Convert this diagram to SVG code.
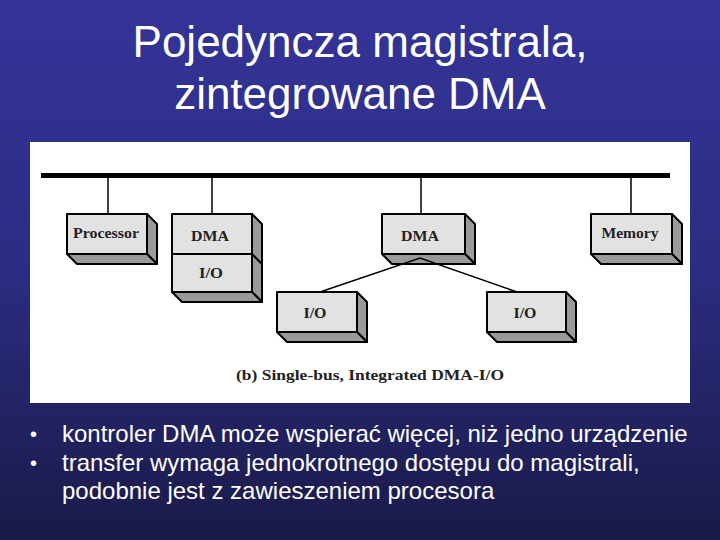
<svg xmlns="http://www.w3.org/2000/svg" width="720" height="540" viewBox="0 0 720 540">
<defs>
<linearGradient id="bg" x1="0" y1="0" x2="0" y2="1">
<stop offset="0" stop-color="#343499"/>
<stop offset="0.5" stop-color="#2c2c82"/>
<stop offset="1" stop-color="#1a1a48"/>
</linearGradient>
</defs>
<style>
.title{font-family:"Liberation Sans",Arial,sans-serif;font-size:44px;fill:#fff;text-anchor:middle}
.bul{font-family:"Liberation Sans",Arial,sans-serif;font-size:24px;fill:#fff}
.dot{font-family:"Liberation Sans",Arial,sans-serif;font-size:20px;fill:#fff}
.face{fill:#e2e2e2;stroke:#000;stroke-width:2;stroke-linejoin:round}
.side{fill:#9a9a9a;stroke:#000;stroke-width:2;stroke-linejoin:round}
.lbl{font-family:"Liberation Serif","Times New Roman",serif;font-weight:bold;font-size:15px;fill:#222;text-anchor:middle}
.cap{font-family:"Liberation Serif","Times New Roman",serif;font-weight:bold;font-size:15px;fill:#222}
.wire{stroke:#000;stroke-width:1.5;fill:none}
</style>
<rect x="0" y="0" width="720" height="540" fill="url(#bg)"/>
<text class="title" x="360" y="57">Pojedyncza magistrala,</text>
<text class="title" x="360" y="109">zintegrowane DMA</text>
<rect x="30" y="142" width="660" height="261" fill="#fff"/>
<g id="connectors">
<rect x="41" y="173" width="629" height="5" fill="#000"/>
<line class="wire" x1="108" y1="178" x2="108" y2="214"/>
<line class="wire" x1="212" y1="178" x2="212" y2="214"/>
<line class="wire" x1="421" y1="178" x2="421" y2="214"/>
<line class="wire" x1="631" y1="178" x2="631" y2="214"/>
</g>
<g id="processor">
<polygon class="side" points="147,214 157,224 157,264 147,254"/>
<polygon class="side" points="67,254 147,254 157,264 77,264"/>
<rect class="face" x="67" y="214" width="80" height="40"/>
<text class="lbl" x="106" y="238" textLength="66" lengthAdjust="spacingAndGlyphs">Processor</text>
</g>
<g id="dma1">
<polygon class="side" points="252,214 262,224 262,302 252,292"/>
<polygon class="side" points="172,292 252,292 262,302 182,302"/>
<rect class="face" x="172" y="214" width="80" height="40"/>
<text class="lbl" x="210" y="241" textLength="38" lengthAdjust="spacingAndGlyphs">DMA</text>
</g>
<g id="io1">
<rect class="face" x="172" y="254" width="80" height="38"/>
<line x1="252" y1="254" x2="262" y2="264" stroke="#000" stroke-width="2"/>
<text class="lbl" x="211" y="278" textLength="24" lengthAdjust="spacingAndGlyphs">I/O</text>
</g>
<g id="dma2">
<polygon class="side" points="465,214 475,224 475,264 465,254"/>
<polygon class="side" points="382,254 465,254 475,264 392,264"/>
<rect class="face" x="382" y="214" width="83" height="40"/>
<text class="lbl" x="420" y="241" textLength="38" lengthAdjust="spacingAndGlyphs">DMA</text>
</g>
<g id="memory">
<polygon class="side" points="672,214 682,224 682,264 672,254"/>
<polygon class="side" points="591,254 672,254 682,264 601,264"/>
<rect class="face" x="591" y="214" width="81" height="40"/>
<text class="lbl" x="630" y="238" textLength="57" lengthAdjust="spacingAndGlyphs">Memory</text>
</g>
<g id="io2">
<polygon class="side" points="357,292 367,302 367,342 357,332"/>
<polygon class="side" points="277,332 357,332 367,342 287,342"/>
<rect class="face" x="277" y="292" width="80" height="40"/>
<text class="lbl" x="315" y="318" textLength="23" lengthAdjust="spacingAndGlyphs">I/O</text>
</g>
<g id="io3">
<polygon class="side" points="566,292 576,302 576,342 566,332"/>
<polygon class="side" points="487,332 566,332 576,342 497,342"/>
<rect class="face" x="487" y="292" width="79" height="40"/>
<text class="lbl" x="525" y="318" textLength="23" lengthAdjust="spacingAndGlyphs">I/O</text>
</g>
<g id="links">
<polyline class="wire" points="320,292 420,258 517,292" stroke-width="1.2"/>
</g>
<text class="cap" x="236" y="380" textLength="268" lengthAdjust="spacingAndGlyphs">(b) Single-bus, Integrated DMA-I/O</text>
<g id="bullets">
<text class="dot" x="30" y="441">•</text>
<text class="bul" x="62" y="442">kontroler DMA może wspierać więcej, niż jedno urządzenie</text>
<text class="dot" x="30" y="470">•</text>
<text class="bul" x="62" y="471">transfer wymaga jednokrotnego dostępu do magistrali,</text>
<text class="bul" x="62" y="499">podobnie jest z zawieszeniem procesora</text>
</g>
</svg>
